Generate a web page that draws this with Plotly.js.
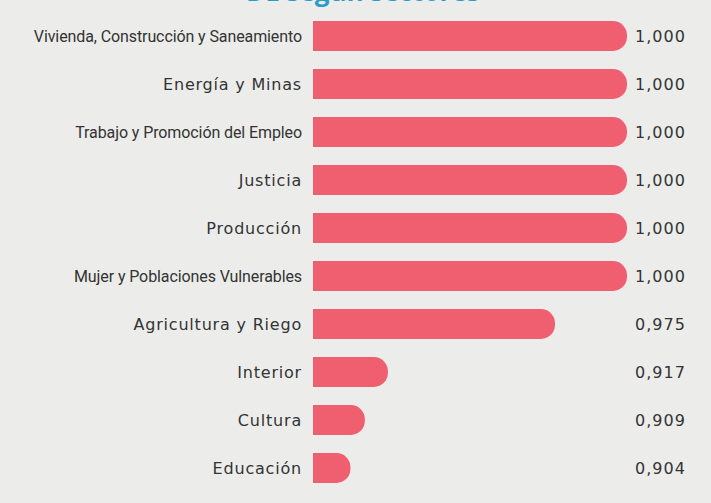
<!DOCTYPE html>
<html>
<head>
<meta charset="utf-8">
<script src="https://cdn.plot.ly/plotly-3.0.1.min.js"></script>
<style>html,body{margin:0;padding:0;background:#ecedeb;}#chart{width:711px;height:503px;}</style>
</head>
<body>
<div id="chart"></div>
<script>
var sectores = [
  "Vivienda, Construcción y Saneamiento",
  "Energía y Minas",
  "Trabajo y Promoción del Empleo",
  "Justicia",
  "Producción",
  "Mujer y Poblaciones Vulnerables",
  "Agricultura y Riego",
  "Interior",
  "Cultura",
  "Educación"
];
var valores = [1.000, 1.000, 1.000, 1.000, 1.000, 1.000, 0.975, 0.917, 0.909, 0.904];
var etiquetas = ["1,000", "1,000", "1,000", "1,000", "1,000", "1,000", "0,975", "0,917", "0,909", "0,904"];
var titulo = "DE según sectores";

var ticktext = sectores.map(function (s) {
  if (s.length > 25) {
    return '<span style="font-family:Roboto;font-size:16px;letter-spacing:-0.1px">' + s + '</span>';
  }
  return '<span style="letter-spacing:0.8px">' + s + '</span>';
});

var trace = {
  type: 'bar',
  orientation: 'h',
  y: sectores,
  x: valores,
  marker: { color: '#f05f6f', cornerradius: 15 },
  width: 0.62,
  hoverinfo: 'skip'
};

var annotations = sectores.map(function (s, i) {
  return {
    xref: 'paper', yref: 'y',
    x: 1, y: s,
    xanchor: 'left', yanchor: 'middle',
    xshift: 6,
    text: '<span style="letter-spacing:1px">' + etiquetas[i] + '</span>',
    showarrow: false,
    font: { family: 'DejaVu Sans', size: 16, color: '#333333' }
  };
});
annotations.push({
  xref: 'paper', yref: 'paper',
  x: 0.16, y: 1,
  xanchor: 'center', yanchor: 'bottom',
  yshift: 1,
  text: '<b>' + titulo + '</b>',
  showarrow: false,
  font: { family: 'Open Sans', size: 26, color: '#2a9bc8' }
});

var layout = {
  width: 711, height: 503,
  paper_bgcolor: '#ecedeb',
  plot_bgcolor: '#ecedeb',
  margin: { l: 313, r: 84, t: 12, b: 11 },
  showlegend: false,
  xaxis: {
    range: [0.891, 1.0],
    showgrid: false, zeroline: false, showticklabels: false, showline: false, ticks: ''
  },
  yaxis: {
    type: 'category',
    autorange: 'reversed',
    tickvals: sectores,
    ticktext: ticktext,
    showgrid: false, zeroline: false, showline: false,
    ticks: '', ticklen: 0,
    ticklabelstandoff: 10,
    tickfont: { family: 'DejaVu Sans', size: 16, color: '#333333' },
    automargin: false
  },
  annotations: annotations,
  font: { family: 'Open Sans', color: '#333333' }
};

Plotly.newPlot('chart', [trace], layout, { staticPlot: true, displayModeBar: false });
</script>
</body>
</html>
